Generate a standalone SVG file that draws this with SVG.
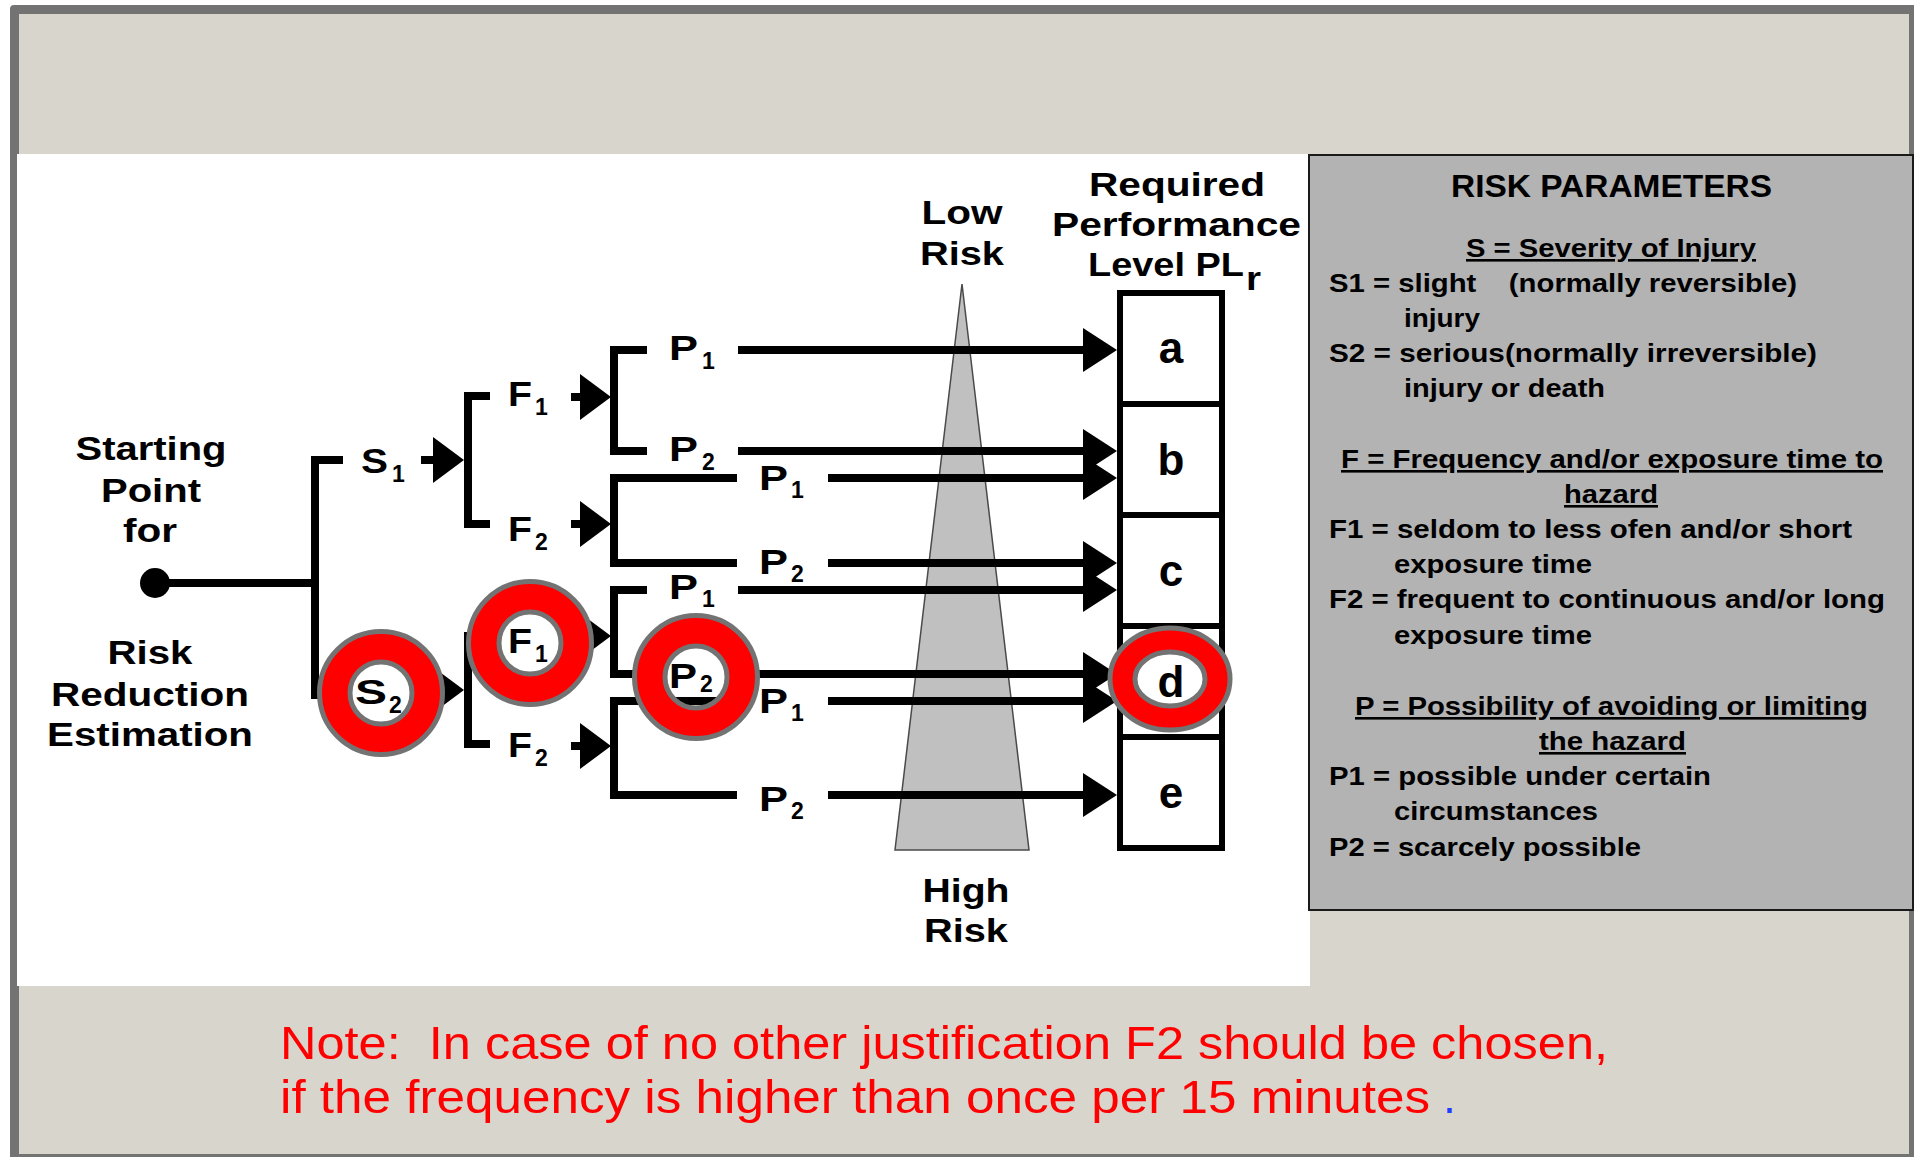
<svg xmlns="http://www.w3.org/2000/svg" width="1914" height="1157" viewBox="0 0 1914 1157">
<style>
.t{font-family:"Liberation Sans",Arial,Helvetica,sans-serif;font-weight:bold;fill:#000}
.big{font-size:33px}
.sym{font-size:35px}
.sub{font-size:23px}
.pt{font-size:26px;white-space:pre}
.ttl{font-size:31px}
.u{text-decoration:underline}
.lt{font-size:44px}
.note{font-family:"Liberation Sans",Arial,sans-serif;font-size:46px;fill:#ff0000;white-space:pre}
.ln{stroke:#000;stroke-width:8;fill:none;stroke-linejoin:miter;stroke-linecap:butt}
.ah{fill:#000}
.ring{fill:#ff0000;fill-rule:evenodd;stroke:#737373;stroke-width:5}
.box{fill:#fff;stroke:#000;stroke-width:6}
</style>

<!-- frame and backgrounds -->
<rect x="0" y="0" width="1914" height="1157" fill="#ffffff"/>
<rect x="10" y="5" width="1910" height="1160" rx="4" fill="#737373"/>
<rect x="19" y="14" width="1890" height="1140" fill="#D8D5CD"/>
<rect x="17" y="154" width="1293" height="832" fill="#ffffff"/>

<!-- risk gradient triangle -->
<g id="risk-scale">
<polygon points="962,284 895,850 1029,850" fill="#C0C0C0" stroke="#4a4a4a" stroke-width="1.5"/>
<text class="t big" x="962" y="224" text-anchor="middle" textLength="81" lengthAdjust="spacingAndGlyphs">Low</text>
<text class="t big" x="962" y="265" text-anchor="middle" textLength="84" lengthAdjust="spacingAndGlyphs">Risk</text>
<text class="t big" x="966" y="902" text-anchor="middle" textLength="87" lengthAdjust="spacingAndGlyphs">High</text>
<text class="t big" x="966" y="942" text-anchor="middle" textLength="84" lengthAdjust="spacingAndGlyphs">Risk</text>
</g>

<!-- connectors -->
<g id="connectors">
<path class="ln" d="M155,583 H315"/>
<path class="ln" d="M343,460 H315 V695 H343"/>
<path class="ln" d="M490,396 H468 V524 H490"/>
<path class="ln" d="M490,636 H468 V744 H490"/>
<path class="ln" d="M647,350 H614 V451 H647"/>
<path class="ln" d="M737,478 H614 V563 H737"/>
<path class="ln" d="M647,590 H614 V674 H640"/>
<path class="ln" d="M737,701 H614 V795 H737"/>
<!-- arrow stems -->
<path class="ln" d="M421,460 H436 M421,690 H436 M571,397 H583 M571,524 H583 M571,636 H583 M571,746 H583"/>
<polygon class="ah" points="433,437 433,483 464,460"/>
<polygon class="ah" points="433,667 433,713 464,690"/>
<polygon class="ah" points="580,374 580,420 611,397"/>
<polygon class="ah" points="580,501 580,547 611,524"/>
<polygon class="ah" points="580,613 580,659 611,636"/>
<polygon class="ah" points="580,723 580,769 611,746"/>
<!-- arrows to PLr -->
<path class="ln" d="M738,350 H1086 M738,451 H1086 M828,478 H1086 M828,563 H1086 M738,590 H1086 M740,674 H1086 M828,701 H1086 M828,795 H1086"/>
<polygon class="ah" points="1083,328 1083,372 1117,350"/>
<polygon class="ah" points="1083,429 1083,473 1117,451"/>
<polygon class="ah" points="1083,456 1083,500 1117,478"/>
<polygon class="ah" points="1083,541 1083,585 1117,563"/>
<polygon class="ah" points="1083,568 1083,612 1117,590"/>
<polygon class="ah" points="1083,652 1083,696 1117,674"/>
<polygon class="ah" points="1083,679 1083,723 1117,701"/>
<polygon class="ah" points="1083,773 1083,817 1117,795"/>
</g>

<!-- start node -->
<g id="start">
<circle cx="155" cy="583" r="15" fill="#000"/>
<text class="t big" x="151" y="460" text-anchor="middle" textLength="151" lengthAdjust="spacingAndGlyphs">Starting</text>
<text class="t big" x="151" y="502" text-anchor="middle" textLength="100" lengthAdjust="spacingAndGlyphs">Point</text>
<text class="t big" x="150" y="542" text-anchor="middle" textLength="54" lengthAdjust="spacingAndGlyphs">for</text>
<text class="t big" x="150" y="664" text-anchor="middle" textLength="85" lengthAdjust="spacingAndGlyphs">Risk</text>
<text class="t big" x="150" y="706" text-anchor="middle" textLength="198" lengthAdjust="spacingAndGlyphs">Reduction</text>
<text class="t big" x="150" y="746" text-anchor="middle" textLength="206" lengthAdjust="spacingAndGlyphs">Estimation</text>
</g>

<!-- branch labels -->
<g id="S1"><text class="t sym" x="361" y="473" textLength="27" lengthAdjust="spacingAndGlyphs">S</text><text class="t sub" x="392" y="482">1</text></g>
<g id="F1-S1"><text class="t sym" x="508" y="406" textLength="24" lengthAdjust="spacingAndGlyphs">F</text><text class="t sub" x="535" y="415">1</text></g>
<g id="F2-S1"><text class="t sym" x="508" y="541" textLength="24" lengthAdjust="spacingAndGlyphs">F</text><text class="t sub" x="535" y="550">2</text></g>
<g id="F2-S2"><text class="t sym" x="508" y="757" textLength="24" lengthAdjust="spacingAndGlyphs">F</text><text class="t sub" x="535" y="766">2</text></g>
<g id="P1-S1F1"><text class="t sym" x="669" y="360" textLength="29" lengthAdjust="spacingAndGlyphs">P</text><text class="t sub" x="702" y="369">1</text></g>
<g id="P2-S1F1"><text class="t sym" x="669" y="461" textLength="29" lengthAdjust="spacingAndGlyphs">P</text><text class="t sub" x="702" y="470">2</text></g>
<g id="P1-S1F2"><text class="t sym" x="759" y="490" textLength="29" lengthAdjust="spacingAndGlyphs">P</text><text class="t sub" x="791" y="498">1</text></g>
<g id="P2-S1F2"><text class="t sym" x="759" y="574" textLength="29" lengthAdjust="spacingAndGlyphs">P</text><text class="t sub" x="791" y="582">2</text></g>
<g id="P1-S2F1"><text class="t sym" x="669" y="599" textLength="29" lengthAdjust="spacingAndGlyphs">P</text><text class="t sub" x="702" y="607">1</text></g>

<!-- PL boxes -->
<g id="PL-column">
<rect class="box" x="1120" y="293" width="102" height="111"/>
<rect class="box" x="1120" y="404" width="102" height="111"/>
<rect class="box" x="1120" y="515" width="102" height="111"/>
<rect class="box" x="1120" y="626" width="102" height="111"/>
<rect class="box" x="1120" y="737" width="102" height="111"/>
<text class="t lt" x="1171" y="363" text-anchor="middle">a</text>
<text class="t lt" x="1171" y="475" text-anchor="middle">b</text>
<text class="t lt" x="1171" y="586" text-anchor="middle">c</text>
<text class="t lt" x="1171" y="808" text-anchor="middle">e</text>
<text class="t big" x="1089" y="196" textLength="176" lengthAdjust="spacingAndGlyphs">Required</text>
<text class="t big" x="1052" y="236" textLength="249" lengthAdjust="spacingAndGlyphs">Performance</text>
<text class="t big" x="1088" y="276" textLength="156" lengthAdjust="spacingAndGlyphs">Level PL</text>
<text class="t" style="font-size:34px" x="1246" y="290" textLength="15" lengthAdjust="spacingAndGlyphs">r</text>
</g>

<!-- highlighted path rings -->
<g id="S2">
<path class="ring" d="M319.5,693 a61.5,61.5 0 1,0 123,0 a61.5,61.5 0 1,0 -123,0 Z M350,693 a31,31 0 1,0 62,0 a31,31 0 1,0 -62,0 Z"/>
<text class="t sym" x="355" y="704" textLength="32" lengthAdjust="spacingAndGlyphs">S</text><text class="t sub" x="389" y="713">2</text>
</g>
<g id="F1-S2">
<path class="ring" d="M468.5,643 a61.5,61.5 0 1,0 123,0 a61.5,61.5 0 1,0 -123,0 Z M499,643 a31,31 0 1,0 62,0 a31,31 0 1,0 -62,0 Z"/>
<text class="t sym" x="508" y="653" textLength="24" lengthAdjust="spacingAndGlyphs">F</text><text class="t sub" x="535" y="662">1</text>
</g>
<g id="P2-S2F1">
<path class="ring" d="M634.5,677 a61.5,61.5 0 1,0 123,0 a61.5,61.5 0 1,0 -123,0 Z M665,677 a31,31 0 1,0 62,0 a31,31 0 1,0 -62,0 Z"/>
<text class="t sym" x="669" y="688" textLength="28" lengthAdjust="spacingAndGlyphs">P</text><text class="t sub" x="700" y="692">2</text>
</g>
<g id="P1-S2F2"><text class="t sym" x="759" y="713" textLength="29" lengthAdjust="spacingAndGlyphs">P</text><text class="t sub" x="791" y="721">1</text></g>
<g id="P2-S2F2"><text class="t sym" x="759" y="811" textLength="29" lengthAdjust="spacingAndGlyphs">P</text><text class="t sub" x="791" y="819">2</text></g>
<g id="PL-d">
<path class="ring" d="M1110,679 a60,51 0 1,0 120,0 a60,51 0 1,0 -120,0 Z M1135,679 a35,27 0 1,0 70,0 a35,27 0 1,0 -70,0 Z"/>
<text class="t lt" x="1171" y="697" text-anchor="middle">d</text>
</g>

<!-- risk parameters panel -->
<g id="risk-parameters">
<rect x="1309" y="155" width="604" height="755" fill="#B3B3B3" stroke="#1a1a1a" stroke-width="2"/>
<text class="t ttl" x="1451" y="197" textLength="321" lengthAdjust="spacingAndGlyphs">RISK PARAMETERS</text>
<text class="t pt u" x="1466" y="257" textLength="290" lengthAdjust="spacingAndGlyphs">S = Severity of Injury</text>
<text class="t pt" x="1329" y="292" textLength="468" lengthAdjust="spacingAndGlyphs">S1 = slight    (normally reversible)</text>
<text class="t pt" x="1404" y="327" textLength="76" lengthAdjust="spacingAndGlyphs">injury</text>
<text class="t pt" x="1329" y="362" textLength="488" lengthAdjust="spacingAndGlyphs">S2 = serious(normally irreversible)</text>
<text class="t pt" x="1404" y="397" textLength="201" lengthAdjust="spacingAndGlyphs">injury or death</text>
<text class="t pt u" x="1341" y="468" textLength="542" lengthAdjust="spacingAndGlyphs">F = Frequency and/or exposure time to</text>
<text class="t pt u" x="1564" y="503" textLength="94" lengthAdjust="spacingAndGlyphs">hazard</text>
<text class="t pt" x="1329" y="538" textLength="523" lengthAdjust="spacingAndGlyphs">F1 = seldom to less ofen and/or short</text>
<text class="t pt" x="1394" y="573" textLength="198" lengthAdjust="spacingAndGlyphs">exposure time</text>
<text class="t pt" x="1329" y="608" textLength="556" lengthAdjust="spacingAndGlyphs">F2 = frequent to continuous and/or long</text>
<text class="t pt" x="1394" y="644" textLength="198" lengthAdjust="spacingAndGlyphs">exposure time</text>
<text class="t pt u" x="1355" y="715" textLength="513" lengthAdjust="spacingAndGlyphs">P = Possibility of avoiding or limiting</text>
<text class="t pt u" x="1539" y="750" textLength="147" lengthAdjust="spacingAndGlyphs">the hazard</text>
<text class="t pt" x="1329" y="785" textLength="382" lengthAdjust="spacingAndGlyphs">P1 = possible under certain</text>
<text class="t pt" x="1394" y="820" textLength="204" lengthAdjust="spacingAndGlyphs">circumstances</text>
<text class="t pt" x="1329" y="856" textLength="312" lengthAdjust="spacingAndGlyphs">P2 = scarcely possible</text>
</g>

<!-- note -->
<g id="note">
<text class="note" x="280" y="1059" textLength="1328" lengthAdjust="spacingAndGlyphs">Note:  In case of no other justification F2 should be chosen,</text>
<text class="note" x="280" y="1113" textLength="1150" lengthAdjust="spacingAndGlyphs">if the frequency is higher than once per 15 minutes</text>
<text class="note" x="1443" y="1113" style="fill:#1f3fff">.</text>
</g>
</svg>
